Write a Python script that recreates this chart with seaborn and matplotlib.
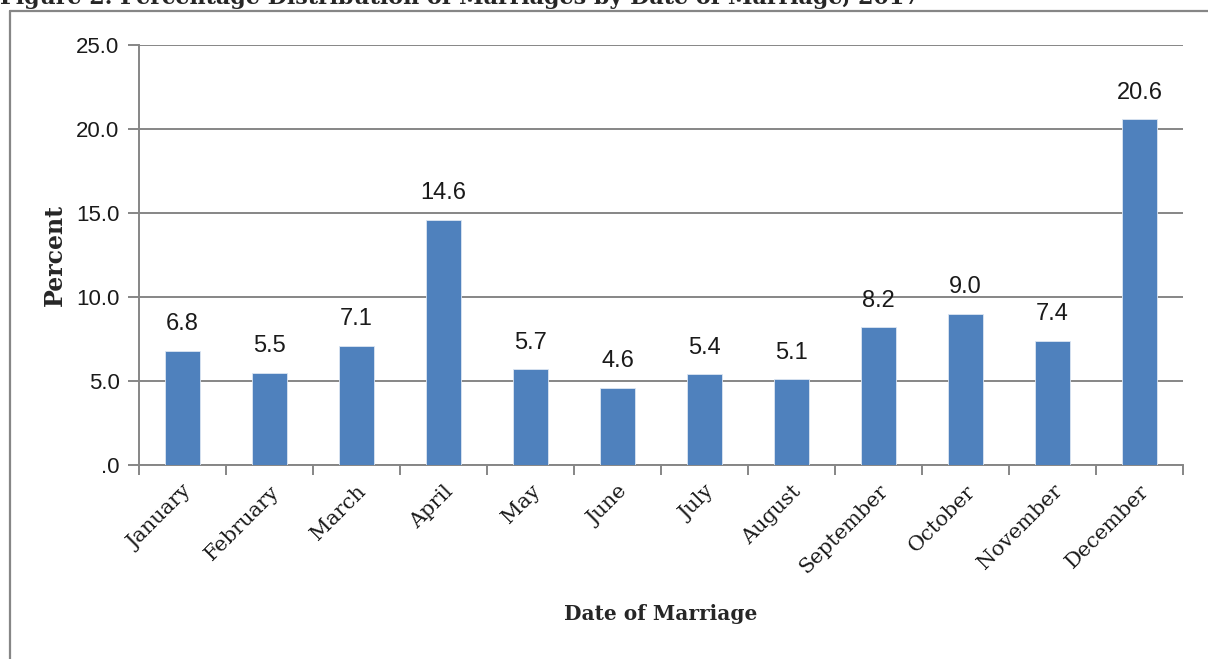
import matplotlib
matplotlib.use("Agg")
import matplotlib.pyplot as plt
from matplotlib.lines import Line2D
import seaborn as sns
import pandas as pd

# Data
months = ["January", "February", "March", "April", "May", "June", "July",
          "August", "September", "October", "November", "December"]
percent = [6.8, 5.5, 7.1, 14.6, 5.7, 4.6, 5.4, 5.1, 8.2, 9.0, 7.4, 20.6]
y_ticks = [0, 5, 10, 15, 20, 25]
y_tick_labels = [".0", "5.0", "10.0", "15.0", "20.0", "25.0"]

df = pd.DataFrame({"month": months, "percent": percent})

sns.set_style("white")
plt.rcParams["font.family"] = ["Liberation Sans", "DejaVu Sans"]

grey = "#868686"
bar_color = "#4F81BD"

fig = plt.figure(figsize=(12.08, 6.59), dpi=100)
ax = fig.add_axes([139 / 1208, 1 - 465 / 659, (1183 - 139) / 1208, (465 - 45) / 659])

sns.barplot(data=df, x="month", y="percent", color=bar_color, width=0.40,
            edgecolor="#DCE6F2", linewidth=0.6, saturation=1, ax=ax, zorder=3)

# Data labels
for i, v in enumerate(percent):
    ax.annotate(f"{v:.1f}", (i, v), xytext=(0, 19), textcoords="offset points",
                ha="center", va="center", fontsize=17, color="#1a1a1a")

# Y axis
ax.set_ylim(0, 25)
ax.set_yticks(y_ticks)
ax.set_yticklabels(y_tick_labels, fontsize=16, color="#1a1a1a")
ax.yaxis.grid(True, color=grey, linewidth=1.4, zorder=0)
ax.set_axisbelow(True)
ax.tick_params(axis="y", length=8, width=1.4, color=grey, direction="out", pad=6, left=True)

# X axis: ticks at category boundaries
ax.set_xlim(-0.5, len(months) - 0.5)
ax.set_xticks(range(len(months)))
ax.set_xticklabels(months, rotation=45, ha="right", rotation_mode="anchor",
                   fontsize=15, family="DejaVu Serif", color="#1a1a1a")
ax.set_xticks([i - 0.5 for i in range(len(months) + 1)], minor=True)
ax.tick_params(axis="x", which="major", length=0, pad=12)
ax.tick_params(axis="x", which="minor", length=7, width=1.4, color=grey, direction="out", bottom=True)

for side in ["top", "right"]:
    ax.spines[side].set_visible(False)
for side in ["left", "bottom"]:
    ax.spines[side].set_color(grey)
    ax.spines[side].set_linewidth(1.4)

ax.set_xlabel("Date of Marriage", fontsize=14.5, fontweight="bold", family="DejaVu Serif")
ax.set_ylabel("Percent", fontsize=17, fontweight="bold", family="DejaVu Serif")
ax.xaxis.set_label_coords(0.5, -0.33)
ax.yaxis.set_label_coords(-0.069, 0.5)

# Chart frame (partly cropped in the source)
fig.add_artist(Line2D([9.5 / 1208, 9.5 / 1208], [-0.02, 1 - 10.5 / 659], color=grey, linewidth=1.6))
fig.add_artist(Line2D([9.5 / 1208, 1.02], [1 - 10.5 / 659, 1 - 10.5 / 659], color=grey, linewidth=1.6))

# Title, cut off at the top edge as in the reference
fig.text(0.0, 1.003, "Figure 2. Percentage Distribution of Marriages by Date of Marriage, 2017",
         ha="left", va="center", fontsize=16, fontweight="bold", family="DejaVu Serif")

fig.savefig("out.png", dpi=100)
